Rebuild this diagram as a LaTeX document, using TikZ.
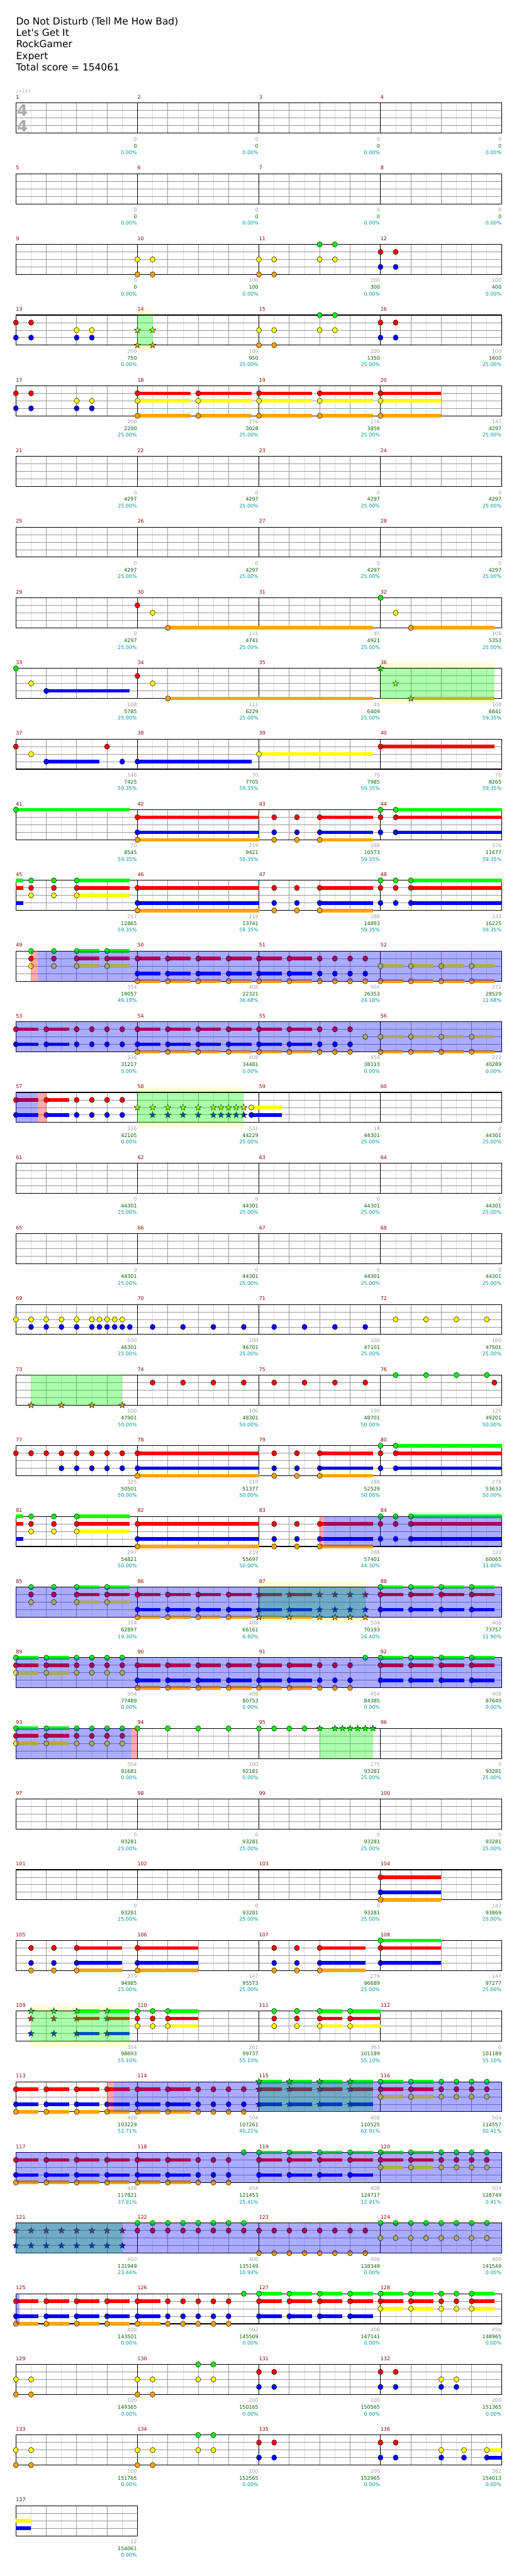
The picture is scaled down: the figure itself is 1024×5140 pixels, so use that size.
\documentclass[tikz,border=0pt]{standalone}
\usepackage{fontspec}
\setmainfont{DejaVu Sans}
\definecolor{c0}{RGB}{0,255,0}
\definecolor{c1}{RGB}{255,0,0}
\definecolor{c2}{RGB}{255,255,0}
\definecolor{c3}{RGB}{0,0,255}
\definecolor{c4}{RGB}{255,165,0}
\definecolor{barnum}{RGB}{139,0,0}
\definecolor{gaingrey}{RGB}{160,160,160}
\definecolor{totgreen}{RGB}{0,100,0}
\definecolor{pctteal}{RGB}{0,153,153}
\definecolor{halo}{RGB}{255,255,208}
\tikzset{eighth/.style={draw=black!13,line width=.8pt},beat/.style={draw=black!40,line width=1pt},lanel/.style={draw=black!40,line width=1pt},barl/.style={draw=black,line width=.8pt},staffbox/.style={draw=black,line width=1.4pt},gemline/.style={draw=black,line width=.6pt},songline/.style={inner sep=0pt,font=\fontsize{19.4}{23}\selectfont},tinytext/.style={inner sep=0pt,font=\fontsize{10}{12}\selectfont},barno/.style={tinytext,text=barnum},gainno/.style={tinytext,text=gaingrey},totno/.style={tinytext,text=totgreen},pctno/.style={tinytext,text=pctteal}}
\newcommand\gpos[2]{\pgfmathtruncatemacro\rw{(#1-1)/4}\pgfmathtruncatemacro\cl{mod(#1-1,4)}\pgfmathsetmacro\px{31.7+\cl*242.4+(#2)*30.3}\pgfmathsetmacro\py{205.7+\rw*141}}
\newcommand\gemat[3]{\gpos{#1}{#2}\foreach \gl in {#3}{\draw[gemline,fill=c\gl] (\px,{\py+15*\gl}) ellipse[x radius=5,y radius=5.4];}}
\newcommand\starat[3]{\gpos{#1}{#2}\foreach \gl in {#3}{\draw[gemline,fill=c\gl] (\px,{\py+15*\gl}) +(-90:6.5) -- +(-54:2.6) -- +(-18:6.5) -- +(18:2.6) -- +(54:6.5) -- +(90:2.6) -- +(126:6.5) -- +(162:2.6) -- +(198:6.5) -- +(234:2.6) -- cycle;}}
\newcommand\tailat[4]{\gpos{#1}{#2}\pgfmathsetmacro\qx{\px+((#3)-(#2))*30.3}\foreach \gl in {#4}{\fill[c\gl] (\px,{\py+15*\gl-3.5}) rectangle (\qx,{\py+15*\gl+3.5});}}
\newcommand\holdat[4]{\tailat{#1}{#2}{#3}{#4}\gemat{#1}{#2}{#4}}
\newcommand\starhold[4]{\tailat{#1}{#2}{#3}{#4}\starat{#1}{#2}{#4}}
\newcommand\gemsat[3]{\foreach \q in {#3}{\gemat{#1}{\q}{#2}}}
\newcommand\starsat[3]{\foreach \q in {#3}{\starat{#1}{\q}{#2}}}
\newcommand\runat[3]{\foreach \q in {#3}{\holdat{#1}{\q}{\q+1.5}{#2}}}
\newcommand\starrun[3]{\foreach \q in {#3}{\starhold{#1}{\q}{\q+1.5}{#2}}}
\newcommand\ovzone[5]{\gpos{#2}{#3}\let\zx\px\let\zy\py\gpos{#4}{#5}\fill[#1,fill opacity=.33] (\zx,\zy) rectangle (\px,{\py+60});}
\newcommand\halozone[3]{\gpos{#1}{#2}\pgfmathsetmacro\qx{\px+((#3)-(#2))*30.3}\fill[halo] (\px,{\py-10.5}) rectangle (\qx,\py) (\px,{\py+60}) rectangle (\qx,{\py+71});}
\newcommand\staffrow[2]{\pgfmathsetmacro\gy{205.7+#1*141}\pgfmathsetmacro\gw{#2*242.4}\pgfmathtruncatemacro\nq{#2*8-1}\pgfmathtruncatemacro\nbt{#2*4-1}%
\foreach \k in {1,3,...,\nq}{\draw[eighth] ({31.7+\k*30.3},\gy) -- ++(0,60);}%
\foreach \k in {1,...,\nbt}{\draw[beat] ({31.7+\k*60.6},\gy) -- ++(0,60);}%
\foreach \j in {1,2,3}{\draw[lanel] (31.7,{\gy+15*\j}) -- ++(\gw,0);}%
\ifnum#2=4 \foreach \k in {1,2,3}{\draw[barl] ({31.7+\k*242.4},\gy) -- ++(0,60);}\fi
\draw[staffbox] (31.7,\gy) rectangle ++(\gw,60);}

\begin{document}
\begin{tikzpicture}[x=1pt,y=-1pt]
\path[use as bounding box,fill=white] (0,0) rectangle (1024,5140);
\node[songline,anchor=base west] (song) at (32,49.2) {Do Not Disturb (Tell Me How Bad)};
\node[songline,anchor=base west] (band) at (32,72.2) {Let\textquotesingle s Get It};
\node[songline,anchor=base west] (author) at (32,95.2) {RockGamer};
\node[songline,anchor=base west] (level) at (32,118.2) {Expert};
\node[songline,anchor=base west] (score) at (32,141.2) {Total score = 154061};
\node[inner sep=0pt,anchor=base west,text=black!33,font=\fontsize{9}{10}\selectfont] (bpm) at (32,185) {♩=143};
\halozone{14}{0}{1}
\halozone{36}{0}{7.5}
\halozone{58}{0}{7}
\halozone{87}{0}{7}
\halozone{109}{1}{7.5}
\foreach \r in {0,...,33}{\staffrow{\r}{4}}
\staffrow{34}{1}
\node[inner sep=0pt,anchor=base,text=black!33,font=\fontsize{31}{31}\bfseries] (tsa) at (44.5,232) {4};
\node[inner sep=0pt,anchor=base,text=black!33,font=\fontsize{31}{31}\bfseries] (tsb) at (44.5,262.3) {4};
\foreach \mb/\gn/\tn/\pc in {1/0/0/0.00,2/0/0/0.00,3/0/0/0.00,4/0/0/0.00,5/0/0/0.00,6/0/0/0.00,7/0/0/0.00,8/0/0/0.00,9/0/0/0.00,10/100/100/0.00,11/200/300/0.00,12/100/400/0.00,13/200/750/0.00,14/100/950/25.00,15/200/1350/25.00,16/100/1600/25.00,17/200/2200/25.00,18/276/3028/25.00,19/276/3856/25.00,20/147/4297/25.00,21/0/4297/25.00,22/0/4297/25.00,23/0/4297/25.00,24/0/4297/25.00,25/0/4297/25.00,26/0/4297/25.00,27/0/4297/25.00,28/0/4297/25.00,29/0/4297/25.00,30/111/4741/25.00,31/45/4921/25.00,32/108/5353/25.00,33/108/5785/25.00,34/111/6229/25.00,35/45/6409/25.00,36/108/6841/59.35,37/146/7425/59.35,38/70/7705/59.35,39/70/7985/59.35,40/70/8265/59.35,41/70/8545/59.35,42/219/9421/59.35,43/288/10573/59.35,44/276/11677/59.35,45/297/12865/59.35,46/219/13741/59.35,47/288/14893/59.35,48/333/16225/59.35,49/354/19057/49.18,50/408/22321/36.68,51/504/26353/24.18,52/272/28529/11.68,53/336/31217/0.00,54/408/34481/0.00,55/454/38113/0.00,56/272/40289/0.00,57/336/42105/0.00,58/531/44229/25.00,59/18/44301/25.00,60/0/44301/25.00,61/0/44301/25.00,62/0/44301/25.00,63/0/44301/25.00,64/0/44301/25.00,65/0/44301/25.00,66/0/44301/25.00,67/0/44301/25.00,68/0/44301/25.00,69/500/46301/25.00,70/100/46701/25.00,71/100/47101/25.00,72/100/47501/25.00,73/100/47901/50.00,74/100/48301/50.00,75/100/48701/50.00,76/125/49201/50.00,77/325/50501/50.00,78/219/51377/50.00,79/288/52529/50.00,80/276/53633/50.00,81/297/54821/50.00,82/219/55697/50.00,83/288/57401/44.30,84/333/60065/31.80,85/354/62897/19.30,86/408/66161/6.80,87/504/70193/24.40,88/408/73757/11.90,89/504/77489/0.00,90/408/80753/0.00,91/454/84385/0.00,92/408/87649/0.00,93/504/91681/0.00,94/100/92181/0.00,95/275/93281/25.00,96/0/93281/25.00,97/0/93281/25.00,98/0/93281/25.00,99/0/93281/25.00,100/0/93281/25.00,101/0/93281/25.00,102/0/93281/25.00,103/0/93281/25.00,104/147/93869/25.00,105/279/94985/25.00,106/147/95573/25.00,107/279/96689/25.00,108/147/97277/25.00,109/354/98693/55.10,110/261/99737/55.10,111/363/101189/55.10,112/0/101189/55.10,113/408/103229/52.71,114/504/107261/40.21,115/408/110525/62.91,116/504/114557/50.41,117/408/117821/37.91,118/454/121453/25.41,119/408/124717/12.91,120/504/128749/0.41,121/400/131949/23.44,122/400/135149/10.94,123/400/138349/0.00,124/400/141549/0.00,125/408/143501/0.00,126/502/145509/0.00,127/408/147141/0.00,128/456/148965/0.00,129/100/149365/0.00,130/200/150165/0.00,131/100/150565/0.00,132/200/151365/0.00,133/100/151765/0.00,134/200/152565/0.00,135/100/152965/0.00,136/262/154013/0.00,137/12/154061/0.00}{%
  \gpos{\mb}{0}%
  \node[barno,anchor=base west] (n\mb) at (\px,{\py-7.9}) {\mb};
  \node[gainno,anchor=base east] (g\mb) at ({\px+241.6},{\py+75.7}) {\gn};
  \node[totno,anchor=base east] (s\mb) at ({\px+241.6},{\py+89.4}) {\tn};
  \node[pctno,anchor=base east] (p\mb) at ({\px+241.6},{\py+102.4}) {\pc\%};
}
\gemsat{10}{2,4}{0,1}
\gemsat{11}{2,4}{0,1}\gemsat{11}{0,2}{4,5}
\gemsat{12}{1,3}{0,1}
\gemsat{13}{1,3}{0,1}\gemsat{13}{2,3}{4,5}
\starsat{14}{2,4}{0,1}
\gemsat{15}{2,4}{0,1}\gemsat{15}{0,2}{4,5}
\gemsat{16}{1,3}{0,1}
\gemsat{17}{1,3}{0,1}\gemsat{17}{2,3}{4,5}
\holdat{18}{0}{3.5}{1,2,4}\holdat{18}{4}{7.5}{1,2,4}
\holdat{19}{0}{3.5}{1,2,4}\holdat{19}{4}{7.5}{1,2,4}
\holdat{20}{0}{4}{1,2,4}
\gemat{30}{0}{1}\gemat{30}{1}{2}\holdat{30}{2}{15.5}{4}
\gemat{32}{0}{0}\gemat{32}{1}{2}\holdat{32}{2}{7.5}{4}
\gemat{33}{0}{0}\gemat{33}{1}{2}\holdat{33}{2}{7.5}{3}
\gemat{34}{0}{1}\gemat{34}{1}{2}\holdat{34}{2}{15.5}{4}
\starat{36}{0}{0}\starat{36}{1}{2}\starhold{36}{2}{7.5}{4}
\gemat{37}{0}{1}\gemat{37}{1}{2}\holdat{37}{2}{5.5}{3}\gemat{37}{6}{1}\gemat{37}{7}{3}
\holdat{38}{0}{7.5}{3}
\holdat{39}{0}{7.5}{2}
\holdat{40}{0}{7.5}{1}
\holdat{41}{0}{7.5}{0}
\holdat{42}{0}{8}{1,3,4}
\gemsat{43}{1,3,4}{1,2.5}\holdat{43}{4}{7.5}{1,3,4}
\gemat{44}{0}{0,1,3}\holdat{44}{1}{8}{0,1,3}
\tailat{45}{0}{0.5}{0,1,3}\gemsat{45}{0,1,2}{1,2.5}\holdat{45}{4}{7.5}{0,1,2}
\holdat{46}{0}{8}{1,3,4}
\gemsat{47}{1,3,4}{1,2.5}\holdat{47}{4}{7.5}{1,3,4}
\gemsat{48}{0,1,3}{0,1}\holdat{48}{2}{8}{0,1,3}
\gemsat{49}{0,1,2}{1,2.5}\runat{49}{0,1,2}{4,6}
\runat{50}{1,3,4}{0,2,4,6}
\runat{51}{1,3,4}{0,2}\gemsat{51}{1,3,4}{4,5,6,7}
\runat{52}{2,4}{0,2,4,6}
\runat{53}{1,3}{0,2}\gemsat{53}{1,3}{4,5,6,7}
\runat{54}{1,3,4}{0,2,4,6}
\runat{55}{1,3,4}{0,2}\gemsat{55}{1,3,4}{4,5,6}\gemat{55}{7}{2}
\runat{56}{2,4}{0,2,4,6}
\runat{57}{1,3}{0,2}\gemsat{57}{1,3}{4,5,6,7}
\starat{58}{0}{2}\starsat{58}{2,3}{1,2,3,4,5,5.5,6,6.5,7}\holdat{58}{7.5}{9.5}{2,3}
\gemat{69}{0}{2}\gemsat{69}{2,3}{1,2,3,4,5,5.5,6,6.5,7}\gemat{69}{7.5}{3}
\gemsat{70}{3}{1,3,5,7}
\gemsat{71}{3}{1,3,5,7}
\gemsat{72}{2}{1,3,5,7}
\starsat{73}{4}{1,3,5,7}
\gemsat{74}{1}{1,3,5,7}
\gemsat{75}{1}{1,3,5,7}
\gemsat{76}{0}{1,3,5,7}\gemat{76}{7.5}{1}
\gemsat{77}{1}{0,1,2}\gemsat{77}{1,3}{3,4,5,6,7}
\holdat{78}{0}{8}{1,3,4}
\gemsat{79}{1,3,4}{1,2.5}\holdat{79}{4}{7.5}{1,3,4}
\gemat{80}{0}{0,1,3}\holdat{80}{1}{8}{0,1,3}
\tailat{81}{0}{0.5}{0,1,3}\gemsat{81}{0,1,2}{1,2.5}\holdat{81}{4}{7.5}{0,1,2}
\holdat{82}{0}{8}{1,3,4}
\gemsat{83}{1,3,4}{1,2.5}\holdat{83}{4}{7.5}{1,3,4}
\gemsat{84}{0,1,3}{0,1}\holdat{84}{2}{8}{0,1,3}
\gemsat{85}{0,1,2}{1,2.5}\runat{85}{0,1,2}{4,6}
\runat{86}{1,3,4}{0,2,4,6}
\starrun{87}{1,3,4}{0,2}\starsat{87}{1,3,4}{4,5,6,7}
\runat{88}{0,1,3}{0,2,4,6}
\runat{89}{0,1,2}{0,2}\gemsat{89}{0,1,2}{4,5,6,7}
\runat{90}{1,3,4}{0,2,4,6}
\runat{91}{1,3,4}{0,2}\gemsat{91}{1,3,4}{4,5,6}\gemat{91}{7}{0}
\runat{92}{0,1,3}{0,2,4,6}
\runat{93}{0,1,2}{0,2}\gemsat{93}{0,1,2}{4,5,6,7}
\gemsat{94}{0}{0,2,4,6}
\gemsat{95}{0}{0,1,2,3}\starsat{95}{0}{4,5,5.5,6,6.5,7,7.5}
\holdat{104}{0}{4}{1,3,4}
\gemsat{105}{1,3,4}{1,2.5}\holdat{105}{4}{7}{1,3,4}
\holdat{106}{0}{4}{1,3,4}
\gemsat{107}{1,3,4}{1,2.5}\holdat{107}{4}{7}{1,3,4}
\holdat{108}{0}{4}{0,1,3}
\starsat{109}{0,1,3}{1,2.5}\starrun{109}{0,1,3}{4,6}
\gemsat{110}{0,1,2}{0,1}\holdat{110}{2}{4}{0,1,2}
\gemsat{111}{0,1,2}{1,2.5}\holdat{111}{4}{5.5}{0,1,2}\holdat{111}{6}{8}{0,1,2}
\runat{113}{1,3,4}{0,2,4,6}
\runat{114}{1,3,4}{0,2}\gemsat{114}{1,3,4}{4,5,6,7}
\starrun{115}{0,1,3}{0,2,4,6}
\runat{116}{0,1,2}{0,2}\gemsat{116}{0,1,2}{4,5,6,7}
\runat{117}{1,3,4}{0,2,4,6}
\runat{118}{1,3,4}{0,2}\gemsat{118}{1,3,4}{4,5,6}\gemat{118}{7}{0}
\runat{119}{0,1,3}{0,2,4,6}
\runat{120}{0,1,2}{0,2}\gemsat{120}{0,1,2}{4,5,6,7}
\starsat{121}{1,3}{0,...,7}
\gemsat{122}{0,1}{0,...,7}
\gemsat{123}{1,4}{0,...,7}
\gemsat{124}{0,2}{0,...,7}
\runat{125}{1,3,4}{0,2,4,6}
\runat{126}{1,3,4}{0}\gemsat{126}{1,3,4}{2,3,4,5,6}\gemat{126}{7}{0}
\runat{127}{0,1,3}{0,2,4,6}
\runat{128}{0,1,2}{0,2,6}\gemsat{128}{0,1,2}{4,5}
\gemsat{129}{2,4}{0,1}
\gemsat{130}{2,4}{0,1}\gemsat{130}{0,2}{4,5}
\gemsat{131}{1,3}{0,1}
\gemsat{132}{1,3}{0,1}\gemsat{132}{2,3}{4,5}
\gemsat{133}{2,4}{0,1}
\gemsat{134}{2,4}{0,1}\gemsat{134}{0,2}{4,5}
\gemsat{135}{1,3}{0,1}
\gemsat{136}{1,3}{0,1}\gemsat{136}{2,3}{4,5.5}\holdat{136}{7}{8}{2,3}
\tailat{137}{0}{1}{2,3}
\ovzone{c0}{14}{0}{14}{1}
\ovzone{c0}{36}{0}{36}{7.5}
\ovzone{c0}{58}{0}{58}{7}
\ovzone{c0}{73}{1}{73}{7}
\ovzone{c0}{87}{0}{87}{7}
\ovzone{c0}{95}{4}{95}{7.5}
\ovzone{c0}{109}{1}{109}{7.5}
\ovzone{c0}{115}{0}{115}{7.5}
\ovzone{c0}{121}{0}{121}{7}
\ovzone{c3}{49}{1.45}{52}{8}
\ovzone{c3}{53}{0}{56}{8}
\ovzone{c3}{57}{0}{57}{1.45}
\ovzone{c3}{83}{4.3}{84}{8}
\ovzone{c3}{85}{0}{88}{8}
\ovzone{c3}{89}{0}{92}{8}
\ovzone{c3}{93}{0}{93}{7.6}
\ovzone{c3}{113}{6.45}{116}{8}
\ovzone{c3}{117}{0}{120}{8}
\ovzone{c3}{121}{0}{124}{8}
\ovzone{c3}{125}{0}{125}{0.25}
\ovzone{c1}{49}{1}{49}{1.45}
\ovzone{c1}{57}{1.45}{57}{2}
\ovzone{c1}{83}{4}{83}{4.3}
\ovzone{c1}{93}{7.6}{93}{8}
\ovzone{c1}{113}{6}{113}{6.45}
\end{tikzpicture}
\end{document}
